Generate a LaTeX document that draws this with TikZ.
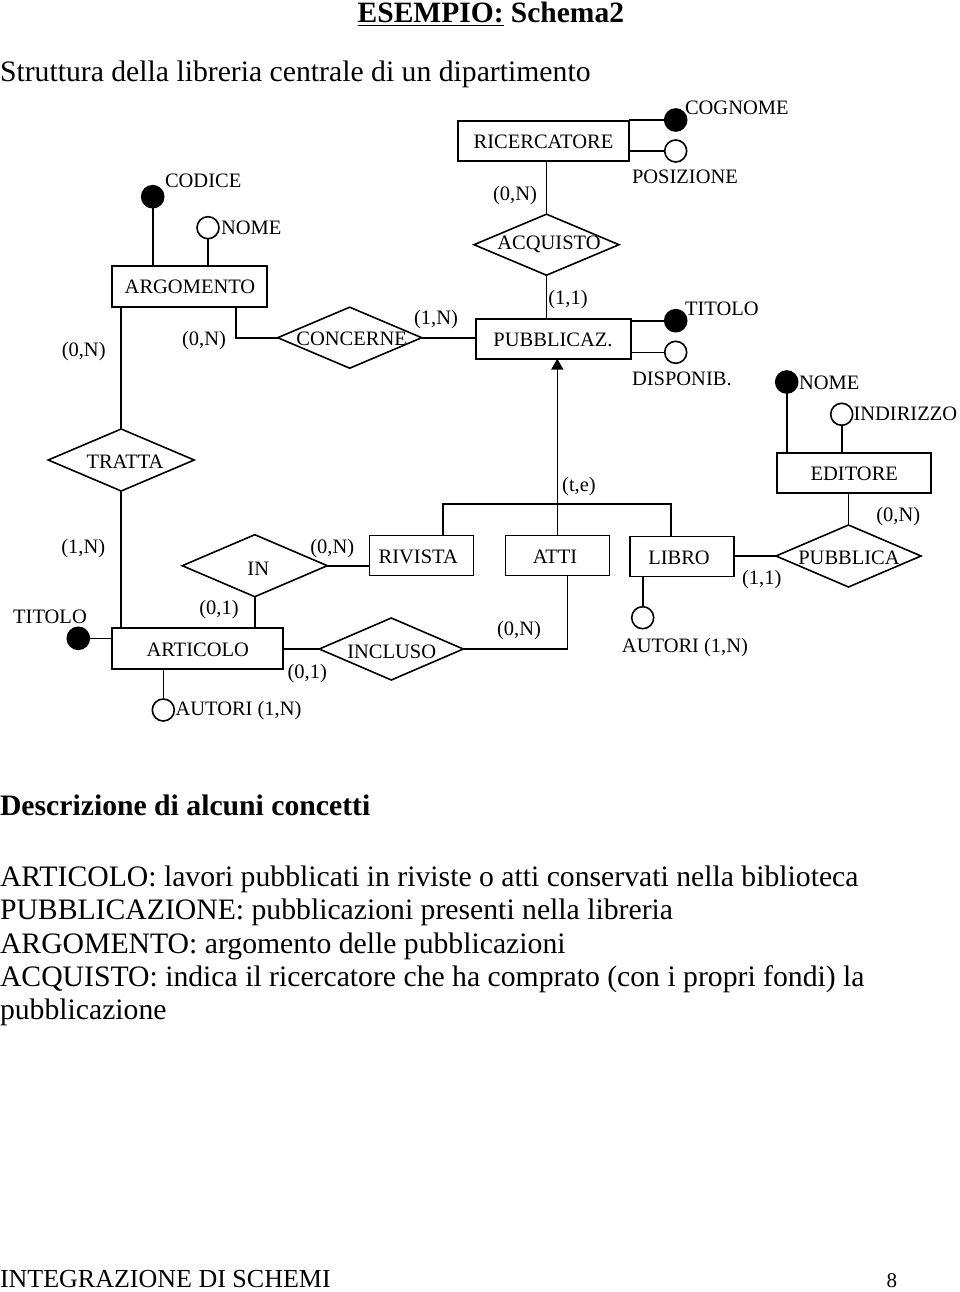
\documentclass[tikz,border=0pt]{standalone}
\usepackage{fontspec}
\setmainfont{Liberation Serif}
\usetikzlibrary{shapes.geometric,arrows.meta}
\begin{document}
\begin{tikzpicture}[x=1pt,y=-1pt,line width=1.6pt,
  every node/.style={inner sep=0pt,outer sep=0pt},
  lbl/.style={font=\fontsize{20.5}{24}\selectfont},
  ent/.style={draw,rectangle,minimum width=#1,minimum height=40pt},
  rel/.style={draw,diamond,minimum width=#1,minimum height=62pt},
  keyattr/.style={draw,circle,fill=black,minimum size=22pt},
  plainattr/.style={draw,circle,fill=white,minimum size=22pt},
  desc/.style={anchor=base west,font=\fontsize{29.7}{34}\selectfont},
]
\useasboundingbox (0,0) rectangle (960,1292);

% ---------- headings ----------
\node[anchor=base west,font=\fontsize{29.5}{33}\selectfont\bfseries] (title) at (357.7,23) {\underline{ESEMPIO:} Schema2};
\node[anchor=base west,font=\fontsize{29.7}{34}\selectfont] (subtitle) at (0,82) {Struttura della libreria centrale di un dipartimento};

% ---------- entities ----------
\node[ent=155pt,minimum height=41pt] (argomento) at (189.5,286.5) {};
\node[lbl] (argomentoT) at (190,287.3) {ARGOMENTO};
\node[ent=171pt] (ricercatore) at (543.7,141) {};
\node[lbl] (ricercatoreT) at (543.5,141.7) {RICERCATORE};
\node[ent=155pt] (pubblicaz) at (553.3,338.7) {};
\node[lbl] (pubblicazT) at (553,340) {PUBBLICAZ.};
\node[ent=154pt] (editore) at (853.8,472.7) {};
\node[lbl] (editoreT) at (854.3,473.5) {EDITORE};
\node[ent=104pt] (rivista) at (421.3,555.5) {};
\node[lbl] (rivistaT) at (418.3,556.7) {RIVISTA};
\node[ent=104pt] (atti) at (557.5,555.5) {};
\node[lbl] (attiT) at (555,557) {ATTI};
\node[ent=104pt] (libro) at (682.2,556.3) {};
\node[lbl] (libroT) at (679,558) {LIBRO};
\node[ent=171pt,minimum height=41pt] (articolo) at (197.2,648.7) {};
\node[lbl] (articoloT) at (197.7,650) {ARTICOLO};

% ---------- relationships ----------
\node[rel=144pt,minimum height=61pt] (concerne) at (349.7,337.7) {};
\node[lbl] (concerneT) at (351.7,338.5) {CONCERNE};
\node[rel=145pt,minimum height=61pt] (acquisto) at (546.5,244.7) {};
\node[lbl] (acquistoT) at (549,244.5) {ACQUISTO};
\node[rel=146pt] (tratta) at (121.2,460) {};
\node[lbl] (trattaT) at (125,461.7) {TRATTA};
\node[rel=145pt] (in) at (254.8,565.7) {};
\node[lbl] (inT) at (258.3,568.3) {IN};
\node[rel=144pt] (incluso) at (391.3,649) {};
\node[lbl] (inclusoT) at (391.7,651.7) {INCLUSO};
\node[rel=145pt] (pubblica) at (848.5,556) {};
\node[lbl] (pubblicaT) at (849,558) {PUBBLICA};

% ---------- attributes ----------
\node[keyattr] (codiceC) at (152.7,196.7) {};
\node[lbl,anchor=west] (codiceT) at (165,181) {CODICE};
\node[plainattr] (nomeAC) at (208,227.7) {};
\node[lbl,anchor=west] (nomeAT) at (221,227.7) {NOME};
\node[keyattr] (cognomeC) at (675.7,120) {};
\node[lbl,anchor=west] (cognomeT) at (685,108) {COGNOME};
\node[plainattr] (posizioneC) at (675.7,151) {};
\node[lbl,anchor=west] (posizioneT) at (632,177) {POSIZIONE};
\node[keyattr] (titoloPC) at (675.7,320.7) {};
\node[lbl,anchor=west] (titoloPT) at (685,309) {TITOLO};
\node[plainattr] (disponibC) at (675.7,352.3) {};
\node[lbl,anchor=west] (disponibT) at (632,378.7) {DISPONIB.};
\node[keyattr] (nomeEC) at (786.7,382) {};
\node[lbl,anchor=west] (nomeET) at (799,382.5) {NOME};
\node[plainattr] (indirizzoC) at (841.7,414.3) {};
\node[lbl,anchor=west] (indirizzoT) at (853.5,413.5) {INDIRIZZO};
\node[plainattr] (autoriLC) at (642.7,617.7) {};
\node[lbl] (autoriLT) at (685,647.7) {AUTORI (1,N)};
\node[keyattr] (titoloAC) at (78.3,638.3) {};
\node[lbl] (titoloAT) at (50,616.7) {TITOLO};
\node[plainattr] (autoriAC) at (163.3,710) {};
\node[lbl,anchor=west] (autoriAT) at (175.5,710.7) {AUTORI (1,N)};

% ---------- cardinalities ----------
\node[lbl] (c1) at (83.7,351.7) {(0,N)};
\node[lbl] (c2) at (204,341) {(0,N)};
\node[lbl] (c3) at (436,320) {(1,N)};
\node[lbl] (c4) at (515,196) {(0,N)};
\node[lbl] (c5) at (568,300) {(1,1)};
\node[lbl] (c6) at (579,486.7) {(t,e)};
\node[lbl] (c7) at (898.3,516.7) {(0,N)};
\node[lbl] (c8) at (761.7,579.3) {(1,1)};
\node[lbl] (c9) at (519,630.7) {(0,N)};
\node[lbl] (c10) at (83.3,548.3) {(1,N)};
\node[lbl] (c11) at (332.3,548.3) {(0,N)};
\node[lbl] (c12) at (219,610) {(0,1)};
\node[lbl] (c13) at (307.3,673.3) {(0,1)};

% ---------- connectors ----------
\draw (codiceC.south) -- (codiceC.south |- argomento.north);
\draw (nomeAC.south) -- (nomeAC.south |- argomento.north);
\draw (tratta.north) -- (tratta.north |- argomento.south);
\draw ([xshift=46.5pt]argomento.south) |- (concerne.west);
\draw (concerne.east) -- (concerne.east -| pubblicaz.west);
\draw (acquisto.north) -- (acquisto.north |- ricercatore.south);
\draw (acquisto.south) -- (acquisto.south |- pubblicaz.north);
\draw (cognomeC.west) -- (cognomeC.west -| ricercatore.east);
\draw (posizioneC.west) -- (posizioneC.west -| ricercatore.east);
\draw (titoloPC.west) -- (titoloPC.west -| pubblicaz.east);
\draw (disponibC.west) -- (disponibC.west -| pubblicaz.east);
\draw (nomeEC.south) -- (nomeEC.south |- editore.north);
\draw (indirizzoC.south) -- (indirizzoC.south |- editore.north);
\draw (pubblica.north) -- (pubblica.north |- editore.south);
\draw (pubblica.west) -- (pubblica.west -| libro.east);
\coordinate (isa) at (557.3,504);
\draw ([xshift=21.4pt]rivista.north) |- (isa) -| ([xshift=-11.2pt]libro.north);
\draw (isa) -- (isa |- atti.north);
\draw[-{Triangle[length=11pt,width=12pt]}] (isa) -- (isa |- pubblicaz.south);
\draw ([xshift=9.8pt]atti.south) |- (incluso.east);
\draw (incluso.west) -- (incluso.west -| articolo.east);
\draw (in.east) -- (in.east -| rivista.west);
\draw (in.south) -- (in.south |- articolo.north);
\draw (tratta.south) -- (tratta.south |- articolo.north);
\draw (titoloAC.east) -- (titoloAC.east -| articolo.west);
\draw (autoriAC.north) -- (autoriAC.north |- articolo.south);
\draw ([xshift=-39.5pt]libro.south) -- (autoriLC.north);

% ---------- description ----------
\node[anchor=base west,font=\fontsize{29.7}{34}\selectfont\bfseries] (dhead) at (0,815.7) {Descrizione di alcuni concetti};
\node[desc] (d1) at (0,886) {ARTICOLO: lavori pubblicati in riviste o atti conservati nella biblioteca};
\node[desc] (d2) at (0,919.5) {PUBBLICAZIONE: pubblicazioni presenti nella libreria};
\node[desc] (d3) at (0,953) {ARGOMENTO: argomento delle pubblicazioni};
\node[desc] (d4) at (0,986.5) {ACQUISTO: indica il ricercatore che ha comprato (con i propri fondi) la};
\node[desc] (d5) at (0,1019) {pubblicazione};

% ---------- footer ----------
\node[anchor=base west,font=\fontsize{26}{30}\selectfont] (footer) at (0,1287.5) {INTEGRAZIONE DI SCHEMI};
\node[anchor=base west,font=\fontsize{21}{24}\selectfont] (pagenum) at (886.7,1287.5) {8};
\end{tikzpicture}
\end{document}
